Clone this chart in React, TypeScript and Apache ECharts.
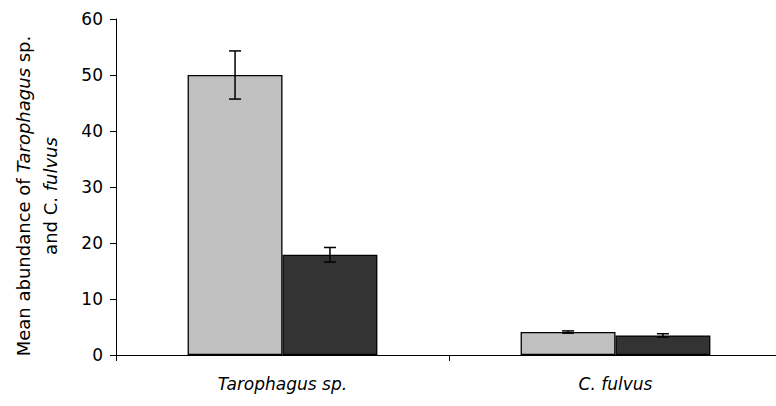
import React, { useEffect, useRef } from "react";
import * as echarts from "echarts";

const categories = ["Tarophagus sp.", "C. fulvus"];
const seriesA = [50.0, 4.1];
const seriesAErr = [4.3, 0.2];
const seriesB = [17.9, 3.5];
const seriesBErr = [1.3, 0.3];
const yTicks = [0, 10, 20, 30, 40, 50, 60];

const FONT = "'DejaVu Sans', Arial, sans-serif";
const FS = 17;
const TFS = 18;
const GROUP_FRACTION = 0.57;

export default function App() {
  const ref = useRef<HTMLDivElement>(null);
  useEffect(() => {
    if (!ref.current) return;
    const chart = echarts.init(ref.current, null, { renderer: "svg" });
    const errData: number[][] = [];
    categories.forEach((_, i) => {
      errData.push([i, seriesA[i] - seriesAErr[i], seriesA[i] + seriesAErr[i], 0]);
      errData.push([i, seriesB[i] - seriesBErr[i], seriesB[i] + seriesBErr[i], 1]);
    });
    chart.setOption({
      animation: false,
      backgroundColor: "#ffffff",
      grid: {
        left: 116,
        right: -6,
        top: 19,
        bottom: 51,
        containLabel: false,
        outerBoundsMode: "none",
      },
      xAxis: {
        type: "category",
        data: categories,
        axisLine: { lineStyle: { color: "#000", width: 1 } },
        axisTick: { show: true, length: 6, lineStyle: { color: "#000" } },
        axisLabel: {
          color: "#000",
          fontStyle: "italic",
          fontFamily: FONT,
          fontSize: FS,
          margin: 20,
        },
      },
      yAxis: {
        type: "value",
        min: yTicks[0],
        max: yTicks[yTicks.length - 1],
        interval: 10,
        splitLine: { show: false },
        axisLine: { show: true, lineStyle: { color: "#000", width: 1 } },
        axisTick: { show: true, length: 6, lineStyle: { color: "#000" } },
        axisLabel: { color: "#000", fontFamily: FONT, fontSize: FS, margin: 13 },
        name: "Mean abundance of {i|Tarophagus} sp.\nand C. {i|fulvus}",
        nameLocation: "middle",
        nameGap: 52,
        nameRotate: 90,
        nameTextStyle: {
          color: "#000",
          fontFamily: FONT,
          fontSize: TFS,
          lineHeight: 27,
          align: "center",
          padding: [0, 18, 0, 0],
          rich: {
            i: { fontStyle: "italic", fontFamily: FONT, fontSize: TFS, color: "#000", lineHeight: 27 },
          },
        },
      },
      series: [
        {
          type: "bar",
          data: seriesA,
          barGap: "0%",
          barCategoryGap: "43%",
          itemStyle: { color: "#c0c0c0", borderColor: "#000", borderWidth: 1.3 },
        },
        {
          type: "bar",
          data: seriesB,
          barGap: "0%",
          barCategoryGap: "43%",
          itemStyle: { color: "#333333", borderColor: "#000", borderWidth: 1.3 },
        },
        {
          type: "custom",
          data: errData,
          z: 10,
          renderItem: (params: any, api: any) => {
            const cat = api.value(0);
            const lo = api.value(1);
            const hi = api.value(2);
            const which = api.value(3);
            const band = api.size([1, 0])[0];
            const barW = (band * GROUP_FRACTION) / 2;
            const pLo = api.coord([cat, lo]);
            const pHi = api.coord([cat, hi]);
            const x = pLo[0] + (which === 0 ? -barW / 2 : barW / 2);
            const cap = 6;
            const style = { stroke: "#000", lineWidth: 1.5 };
            return {
              type: "group",
              children: [
                { type: "line", shape: { x1: x, y1: pLo[1], x2: x, y2: pHi[1] }, style },
                { type: "line", shape: { x1: x - cap, y1: pLo[1], x2: x + cap, y2: pLo[1] }, style },
                { type: "line", shape: { x1: x - cap, y1: pHi[1], x2: x + cap, y2: pHi[1] }, style },
              ],
            };
          },
        },
      ],
    });
    return () => chart.dispose();
  }, []);
  return <div ref={ref} style={{ width: 776, height: 406, position: "absolute", left: 0, top: 0 }} />;
}
